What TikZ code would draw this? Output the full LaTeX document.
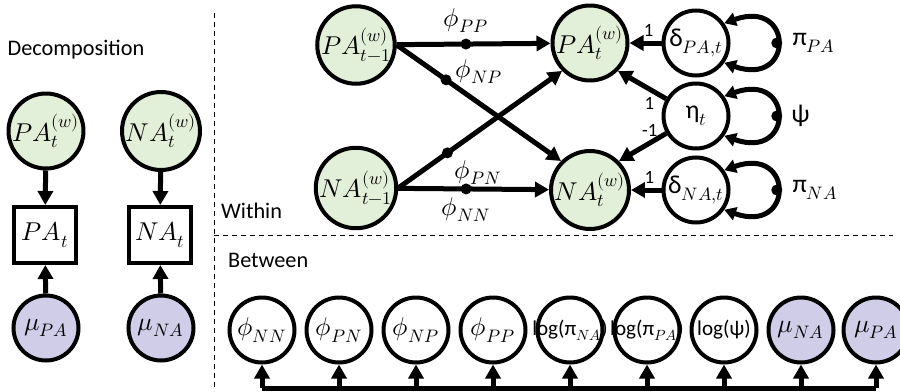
\documentclass[tikz,border=0pt]{standalone}
\usepackage{fontspec}
\usepackage{unicode-math}
\setmainfont{Carlito}
\setmathfont{Latin Modern Math}
\usetikzlibrary{arrows.meta}
\definecolor{obsgreen}{HTML}{E2EFD9}
\definecolor{parpurple}{HTML}{CFCDE7}
\tikzset{
	every node/.style = {font=\fontsize{22}{25}\selectfont},
	var/.style = {circle, draw, line width=0.12cm, minimum size=1.95cm, inner sep=0pt},
	obs/.style = {var, fill=obsgreen},
	par/.style = {var, fill=parpurple},
	meas/.style = {draw, line width=0.12cm, minimum width=1.85cm, minimum height=1.68cm},
	arr/.style = {line width=0.15cm, -{Triangle[length=0.42cm,width=0.45cm]}},
	loopline/.style = {line width=0.15cm, {Triangle[length=0.35cm,width=0.4cm]}-{Triangle[length=0.35cm,width=0.4cm]}},
	bus/.style = {line width=0.15cm},
	dotnode/.style = {circle, fill=black, inner sep=0pt, minimum size=0.33cm},
	sep/.style = {line width=0.8pt, dash pattern=on 0.15cm off 0.12cm},
	head/.style = {font=\fontsize{19}{22}\selectfont},
	small/.style = {font=\fontsize{16}{18}\selectfont},
	logtext/.style = {font=\fontsize{18}{20}\selectfont}
}

\begin{document}
\begin{tikzpicture}[x=0.03cm, y=-0.03cm]
		\useasboundingbox (0,0) rectangle (900,391);
		% panels
		\draw[sep] (214,13) -- (214,391);
		\draw[sep] (214,235) -- (893,235);
		\node[head] (dec) at (76,50) {Decomposition};
		\node[head, anchor=west] (within) at (217,211) {Within};
		\node[head, anchor=west] (between) at (224,260) {Between};
		% decomposition
		\node[obs] (dPA) at (46,131) {$PA_t^{(w)}$};
		\node[obs] (dNA) at (161,131) {$NA_t^{(w)}$};
		\node[meas] (bPA) at (45,235) {$PA_t$};
		\node[meas] (bNA) at (160,235) {$NA_t$};
		\node[par] (mPA) at (46,328) {$\mu_{PA}$};
		\node[par] (mNA) at (161,328) {$\mu_{NA}$};
		\draw[arr] (dPA) -- (bPA);
		\draw[arr] (dNA) -- (bNA);
		\draw[arr] (mPA) -- (bPA);
		\draw[arr] (mNA) -- (bNA);
		% within
		\node[obs] (pa1) at (356,45) {$PA_{t-1}^{(w)}$};
		\node[obs] (na1) at (356,188) {$NA_{t-1}^{(w)}$};
		\node[obs] (pat) at (590,43) {$PA_t^{(w)}$};
		\node[obs] (nat) at (590,190) {$NA_t^{(w)}$};
		\node[var] (dpa) at (696,43) {δ$_{PA,t}$};
		\node[var] (eta) at (696,116) {η$_t$};
		\node[var] (dna) at (696,190) {δ$_{NA,t}$};
		
		\draw[arr] (pa1) -- (pat) node[dotnode, pos=.45] {} node[pos=.45, above=4pt] {$\phi_{PP}$};
		\draw[arr] (pa1.east) -- (nat.north west) node[dotnode, pos=.3] {} node[pos=.3, anchor=west, xshift=3pt, yshift=7pt] {$\phi_{NP}$};
		\draw[arr] (na1.east) -- (pat.south west) node[dotnode, pos=.3] {} node[pos=.3, anchor=north west, xshift=1pt, yshift=-1pt] {$\phi_{PN}$};
		\draw[arr] (na1) -- (nat) node[dotnode, pos=.45] {} node[pos=.45, below=2pt] {$\phi_{NN}$};
		
		\draw[arr] (dpa) -- (pat) node[pos=.4, above=0pt, small] {1};
		\draw[arr] (eta) -- (pat.south east) node[pos=.35, below=2pt, small] {1};
		\draw[arr] (eta) -- (nat.north east) node[pos=.35, above=0pt, small] {-1};
		\draw[arr] (dna) -- (nat) node[pos=.4, above=0pt, small] {1};
		
		\draw[loopline] (dpa.35) .. controls +(70,-25) and +(70,25) .. (dpa.-35) node[dotnode, pos=.5] {} node[pos=.5, right=8pt] {π$_{PA}$};
		\draw[loopline] (eta.35) .. controls +(70,-25) and +(70,25) .. (eta.-35) node[dotnode, pos=.5] {} node[pos=.5, right=7pt] {ψ};
		\draw[loopline] (dna.35) .. controls +(70,-25) and +(70,25) .. (dna.-35) node[dotnode, pos=.5] {} node[pos=.5, right=8pt] {π$_{NA}$};
		% between
		\node[var] (bNN) at (262,330) {$\phi_{NN}$};
		\node[var] (bPN) at (339,330) {$\phi_{PN}$};
		\node[var] (bNP) at (416,330) {$\phi_{NP}$};
		\node[var] (bPP) at (493,330) {$\phi_{PP}$};
		\node[var, logtext] (bpiNA) at (570,330) {\makebox[0pt]{log(π$_{NA}$)}};
		\node[var, logtext] (bpiPA) at (647,330) {\makebox[0pt]{log(π$_{PA}$)}};
		\node[var, logtext] (bpsi) at (724,330) {\makebox[0pt]{log(ψ)}};
		\node[par] (bmuNA) at (801,330) {$\mu_{NA}$};
		\node[par] (bmuPA) at (876,330) {$\mu_{PA}$};
		
		\coordinate (bus) at (0,388);
		\draw[bus] (bNN |- bus) -- (bmuPA |- bus);
		\draw[arr] (bNN |- bus) -- (bNN);
		\draw[arr] (bPN |- bus) -- (bPN);
		\draw[arr] (bNP |- bus) -- (bNP);
		\draw[arr] (bPP |- bus) -- (bPP);
		\draw[arr] (bpiNA |- bus) -- (bpiNA);
		\draw[arr] (bpiPA |- bus) -- (bpiPA);
		\draw[arr] (bpsi |- bus) -- (bpsi);
		\draw[arr] (bmuNA |- bus) -- (bmuNA);
		\draw[arr] (bmuPA |- bus) -- (bmuPA);
	\end{tikzpicture}
\end{document}
